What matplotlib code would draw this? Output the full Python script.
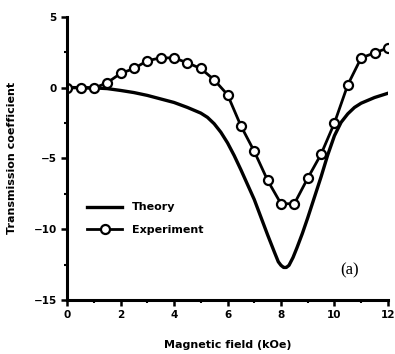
import matplotlib
matplotlib.use("Agg")
import matplotlib.pyplot as plt
from matplotlib.ticker import MultipleLocator

# Experiment data
exp_field = [0, 0.5, 1.0, 1.5, 2.0, 2.5, 3.0, 3.5, 4.0, 4.5, 5.0, 5.5, 6.0,
             6.5, 7.0, 7.5, 8.0, 8.5, 9.0, 9.5, 10.0, 10.5, 11.0, 11.5, 12.0]
exp_trans = [0, 0, -0.05, 0.35, 1.0, 1.35, 1.9, 2.1, 2.1, 1.75, 1.35, 0.55, -0.5,
             -2.7, -4.5, -6.55, -8.2, -8.2, -6.4, -4.7, -2.5, 0.2, 2.1, 2.45, 2.8]

# Theory data
th_field = [0, 0.5, 1.0, 1.5, 2.0, 2.5, 3.0, 3.5, 4.0, 4.5, 5.0, 5.25, 5.5, 5.75,
            6.0, 6.25, 6.5, 7.0, 7.5, 7.75, 7.9, 8.0, 8.1, 8.2, 8.3, 8.45, 8.6,
            8.8, 9.0, 9.5, 9.75, 10.0, 10.25, 10.5, 10.75, 11.0, 11.5, 12.0]
th_trans = [0, 0, -0.02, -0.07, -0.2, -0.35, -0.55, -0.8, -1.05, -1.4, -1.8, -2.1,
            -2.55, -3.15, -3.9, -4.8, -5.8, -7.9, -10.4, -11.6, -12.3, -12.55,
            -12.7, -12.7, -12.55, -12.0, -11.3, -10.3, -9.2, -6.3, -4.75, -3.4,
            -2.45, -1.85, -1.4, -1.1, -0.7, -0.4]

fig = plt.figure(figsize=(3.95, 3.54), dpi=100)
ax = fig.add_axes([0.17, 0.1525, 0.812, 0.80])

ax.plot(th_field, th_trans, color="black", lw=2.4, label="Theory")
ax.plot(exp_field, exp_trans, color="black", lw=2.0, marker="o", markersize=6.5,
        markerfacecolor="white", markeredgecolor="black", markeredgewidth=1.6,
        label="Experiment")

ax.set_xlim(0, 12)
ax.set_ylim(-15, 5)
ax.xaxis.set_major_locator(MultipleLocator(2))
ax.xaxis.set_minor_locator(MultipleLocator(1))
ax.yaxis.set_major_locator(MultipleLocator(5))
ax.yaxis.set_minor_locator(MultipleLocator(2.5))

for s in ["top", "right"]:
    ax.spines[s].set_visible(False)
for s in ["left", "bottom"]:
    ax.spines[s].set_linewidth(2.2)

ax.tick_params(which="major", direction="out", length=4, width=1.8, labelsize=7.5)
ax.tick_params(which="minor", direction="out", length=2.5, width=1.5)
for lab in ax.get_xticklabels() + ax.get_yticklabels():
    lab.set_fontweight("bold")

ax.set_xlabel("Magnetic field (kOe)", fontsize=8, fontweight="bold", labelpad=14)
ax.set_ylabel("Transmission coefficient", fontsize=8, fontweight="bold", labelpad=12)

leg = ax.legend(loc="upper left", bbox_to_anchor=(0.03, 0.38), frameon=False,
                handlelength=3.2, handletextpad=0.9, fontsize=8, labelspacing=1.1)
for t in leg.get_texts():
    t.set_fontweight("bold")

ax.text(0.88, 0.105, "(a)", transform=ax.transAxes, fontsize=12,
        family="Liberation Serif", ha="center", va="center")

fig.savefig("out.png", dpi=100)
